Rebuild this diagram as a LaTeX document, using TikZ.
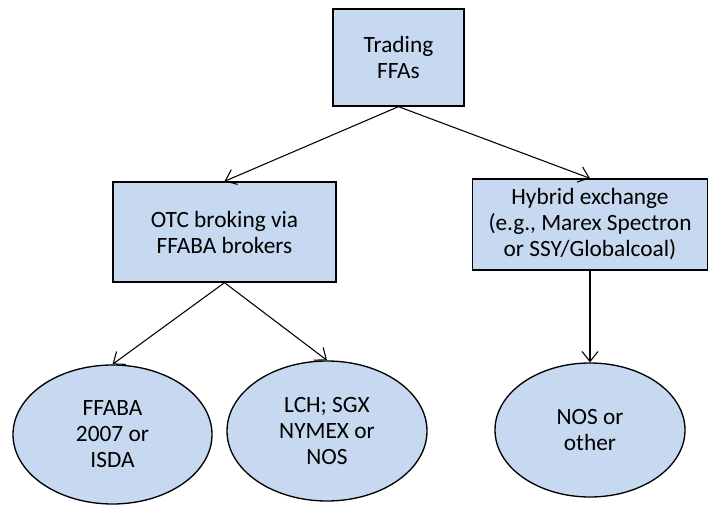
\documentclass[tikz,border=0pt]{standalone}
\usepackage{fontspec}
\setmainfont{Carlito}
\usetikzlibrary{arrows.meta,shapes.geometric}
\definecolor{boxblue}{HTML}{C6D9F1}
\begin{document}
\begin{tikzpicture}[x=0.75pt,y=-0.75pt,
    box/.style={
      % The shape:
      rectangle,inner sep=0pt,align=center,
      % The rest
      draw=black,line width=1pt,fill=boxblue,
      font=\fontsize{17.5}{19.5}\selectfont},
    oval/.style={box,ellipse},
    link/.style={-{Straight Barb[length=7.5pt,width=12pt]},line width=0.8pt}]
    \useasboundingbox (0,0) rectangle (714,506);
    \node (trading) [box,minimum width=98.25pt,minimum height=72.75pt] at (398.5,57.5) {Trading\\FFAs};
    \node (otc) [box,minimum width=167.25pt,minimum height=75pt] at (224.5,232) {OTC broking via\\FFABA brokers};
    \node (hybrid) [box,minimum width=176pt,minimum height=68.25pt] at (590,224.5) {Hybrid exchange\\(e.g., Marex Spectron\\or SSY/Globalcoal)};
    \node (ffaba) [oval,minimum width=149.25pt,minimum height=104.25pt] at (112.5,434.5) {FFABA\\2007 or\\ISDA};
    \node (lch) [oval,minimum width=150pt,minimum height=105pt] at (327,431) {LCH; SGX\\NYMEX or\\NOS};
    \node (nos) [oval,minimum width=142.5pt,minimum height=100.5pt] at (590,430) {NOS or\\other};
    \draw[link] (trading.south) -- (otc.north);
    \draw[link] (trading.south) -- (hybrid.north);
    \draw[link] (otc.south) -- (ffaba.north);
    \draw[link] (otc.south) -- (lch.north);
    \draw[link] (hybrid.south) -- (nos.north);
\end{tikzpicture}
\end{document}
